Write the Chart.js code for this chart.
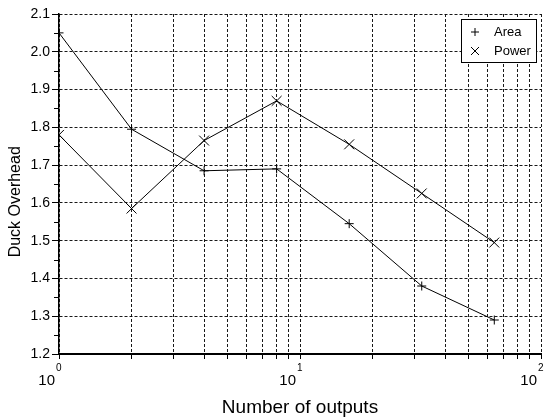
<!DOCTYPE html>
<html lang="en">
<head>
    <meta charset="UTF-8">
    <title>Duck Overhead</title>
    <script src="https://cdn.jsdelivr.net/npm/chart.js@4.4.1/dist/chart.umd.min.js"></script>
    <style>
        html, body { margin: 0; padding: 0; background: #fff; }
        #wrap { width: 544px; height: 420px; }
    </style>
</head>
<body>
    <div id="wrap"><canvas id="chart" width="544" height="420"></canvas></div>

    <script>
        // Datos
        const outputs = [1, 2, 4, 8, 16, 32, 64];
        const area = [2.05, 1.795, 1.685, 1.69, 1.545, 1.38, 1.29];
        const power = [1.78, 1.585, 1.765, 1.87, 1.755, 1.625, 1.495];

        const xGrid = [1, 2, 3, 4, 5, 6, 7, 8, 9, 10, 20, 30, 40, 50, 60, 70, 80, 90, 100];
        const xLabels = [1, 10, 100];
        const xExponents = ['0', '1', '2'];
        const yTicks = [1.2, 1.3, 1.4, 1.5, 1.6, 1.7, 1.8, 1.9, 2.0, 2.1];

        const FONT = "'Liberation Sans', Arial, Helvetica, sans-serif";
        const GRID = 'rgba(0,0,0,0.9)';

        const toPoints = (ys) => outputs.map((x, i) => ({ x: x, y: ys[i] }));

        // Etiquetas 10^n, ticks menores y leyenda
        const extras = {
            id: 'extras',
            afterDraw(chart) {
                const ctx = chart.ctx;
                const xs = chart.scales.x;
                const ys = chart.scales.y;
                const base = chart.chartArea.bottom;
                ctx.save();
                ctx.fillStyle = '#000';
                ctx.textBaseline = 'middle';
                xLabels.forEach((v, i) => {
                    const px = xs.getPixelForValue(v);
                    ctx.font = '15px ' + FONT;
                    ctx.textAlign = 'right';
                    ctx.fillText('10', px - 4, base + 27);
                    ctx.font = '10px ' + FONT;
                    ctx.textAlign = 'left';
                    ctx.fillText(xExponents[i], px - 3, base + 14);
                });

                // ticks menores del eje y
                ctx.strokeStyle = '#000';
                ctx.lineWidth = 1;
                ctx.beginPath();
                for (let i = 0; i < yTicks.length - 1; i++) {
                    const py = Math.round(ys.getPixelForValue((yTicks[i] + yTicks[i + 1]) / 2)) + 0.5;
                    ctx.moveTo(ys.right - 5, py);
                    ctx.lineTo(ys.right, py);
                }
                ctx.stroke();

                // leyenda
                ctx.fillStyle = '#fff';
                ctx.fillRect(461.5, 19.5, 75, 43);
                ctx.strokeRect(461.5, 19.5, 75, 43);
                ctx.beginPath();
                ctx.moveTo(471, 32); ctx.lineTo(479, 32);
                ctx.moveTo(475, 28); ctx.lineTo(475, 36);
                ctx.moveTo(471, 47); ctx.lineTo(479, 55);
                ctx.moveTo(471, 55); ctx.lineTo(479, 47);
                ctx.stroke();
                ctx.fillStyle = '#000';
                ctx.font = '13px ' + FONT;
                ctx.textAlign = 'left';
                ctx.fillText('Area', 494, 32);
                ctx.fillText('Power', 494, 51);
                ctx.restore();
            }
        };

        new Chart(document.getElementById('chart'), {
            type: 'line',
            data: {
                datasets: [{
                    label: 'Area',
                    data: toPoints(area),
                    borderColor: '#000',
                    borderWidth: 1,
                    pointStyle: 'cross',
                    pointRadius: 4.5,
                    pointBorderColor: '#000',
                    pointBorderWidth: 1,
                    tension: 0
                }, {
                    label: 'Power',
                    data: toPoints(power),
                    borderColor: '#000',
                    borderWidth: 1,
                    pointStyle: 'crossRot',
                    pointRadius: 7,
                    pointBorderColor: '#000',
                    pointBorderWidth: 1,
                    tension: 0
                }]
            },
            options: {
                responsive: false,
                animation: false,
                events: [],
                layout: { autoPadding: false, padding: { top: 14, right: 3, left: 0, bottom: 0 } },
                plugins: {
                    legend: { display: false },
                    tooltip: { enabled: false }
                },
                scales: {
                    x: {
                        type: 'logarithmic',
                        min: 1,
                        max: 100,
                        afterBuildTicks: (s) => { s.ticks = xGrid.map(v => ({ value: v })); },
                        afterFit: (s) => { s.height = 66; },
                        ticks: { display: false },
                        grid: {
                            color: GRID,
                            lineWidth: 1,
                            tickColor: '#000',
                            tickLength: 5
                        },
                        border: { color: '#000', width: 2, dash: [3, 2] },
                        title: {
                            display: true,
                            text: 'Number of outputs',
                            color: '#000',
                            font: { family: FONT, size: 19 },
                            padding: { top: 0, bottom: 1 }
                        }
                    },
                    y: {
                        min: 1.2,
                        max: 2.1,
                        afterBuildTicks: (s) => { s.ticks = yTicks.map(v => ({ value: v })); },
                        afterFit: (s) => { s.width = 59; },
                        ticks: {
                            color: '#000',
                            padding: 2,
                            font: { family: FONT, size: 14 },
                            callback: (v) => v.toFixed(1)
                        },
                        grid: {
                            color: GRID,
                            lineWidth: 1,
                            tickColor: '#000',
                            tickLength: 7
                        },
                        border: { color: '#000', width: 1.5, dash: [3, 2] },
                        title: {
                            display: true,
                            // espacios finales: el título queda algo más abajo, como en el original
                            text: 'Duck Overhead        ',
                            color: '#000',
                            font: { family: FONT, size: 16 },
                            padding: { top: 6, bottom: 0 }
                        }
                    }
                }
            },
            plugins: [extras]
        });
    </script>
</body>
</html>
